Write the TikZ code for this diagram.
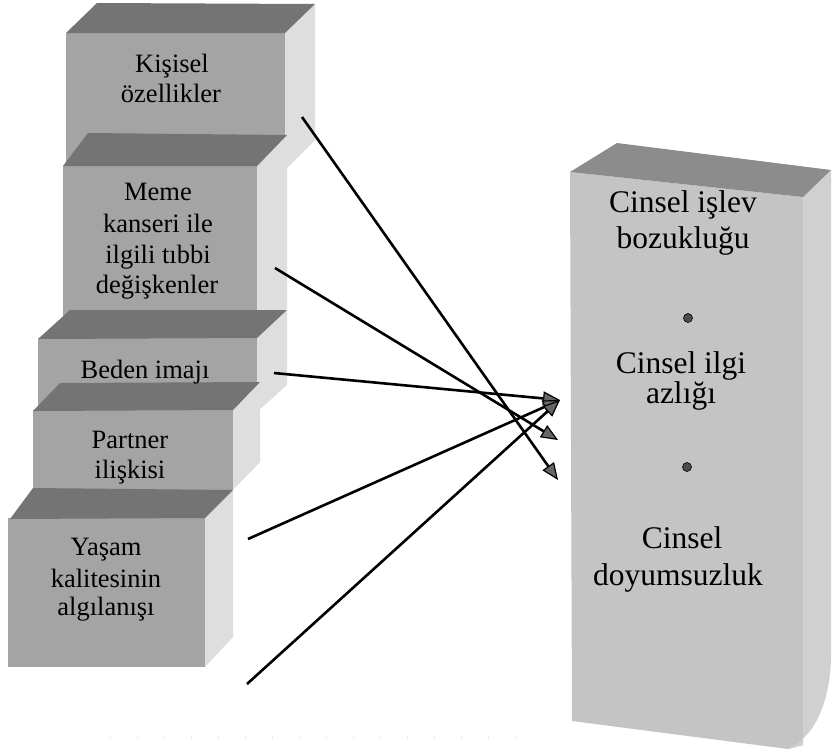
\documentclass[tikz,border=0pt]{standalone}
\usepackage{fontspec}
\setmainfont{Liberation Serif}
\usetikzlibrary{arrows.meta}

\definecolor{frontgray}{HTML}{A4A4A4}
\definecolor{topgray}{HTML}{747474}
\definecolor{sidegray}{HTML}{DEDEDE}
\definecolor{bigfront}{HTML}{C4C4C4}
\definecolor{bigtop}{HTML}{8C8C8C}
\definecolor{bigside}{HTML}{D0D0D0}

\begin{document}
\begin{tikzpicture}[x=1pt,y=-1pt,
  front/.style={fill=frontgray},
  topface/.style={fill=topgray},
  sideface/.style={fill=sidegray},
  lbl/.style={font=\fontsize{26.5}{30}\selectfont, inner sep=0pt, anchor=base},
  rlbl/.style={font=\fontsize{31.5}{36}\selectfont, inner sep=0pt, anchor=base},
  dotmark/.style={circle, fill=black!70, draw=black, line width=0.6pt, minimum size=9pt, inner sep=0pt},
  link/.style={line width=2.6pt, -{Triangle[length=17pt,width=14pt,fill=black!60,line width=1.2pt]}}
]
\useasboundingbox (0,0) rectangle (834,753);

% ---- stacked blocks on the left (drawn top to bottom so each overlaps the one above)
% block 1
\fill[front]    (66,33) rectangle (285,170);
\fill[sideface] (285,33) -- (315,4) -- (315,140) -- (285,170) -- cycle;
\fill[topface]  (66,33) -- (97,3) -- (315,4) -- (285,33) -- cycle;
% block 2
\fill[front]    (63,166) rectangle (257,340);
\fill[sideface] (257,166) -- (287,135) -- (287,308) -- (257,338) -- cycle;
\fill[topface]  (63,166) -- (88,133) -- (287,135) -- (257,166) -- cycle;
% block 3
\fill[front]    (38,338) rectangle (257,412);
\fill[sideface] (257,338) -- (287,310) -- (287,385) -- (257,412) -- cycle;
\fill[topface]  (38,339) -- (70,310) -- (287,310) -- (257,338) -- cycle;
% block 4
\fill[front]    (33,410) rectangle (233,490);
\fill[sideface] (233,410) -- (260,382) -- (260,462) -- (233,490) -- cycle;
\fill[topface]  (33,411) -- (60,383) -- (260,382) -- (233,410) -- cycle;
% block 5
\fill[front]    (8,518) rectangle (205,667);
\fill[sideface] (205,518) -- (233,490) -- (233,637) -- (205,667) -- cycle;
\fill[topface]  (10,519) -- (33,488) -- (233,490) -- (205,518) -- cycle;

% ---- tall block on the right
\fill[bigfront] (570,172) -- (803,197) -- (803,745) -- (788,749) -- (572,721) -- cycle;
\fill[bigside]  (803,197) -- (831,170) -- (831,660)
   .. controls (829,708) and (812,738) .. (788,749) -- (803,745) -- cycle;
\fill[bigtop]   (570,172) -- (617,143) -- (831,170) -- (803,197) -- cycle;

% ---- labels, left
\node[lbl] (k1) at (172,72)  {Kişisel};
\node[lbl] (k2) at (171,102) {özellikler};
\node[lbl] (m1) at (158,200) {Meme};
\node[lbl] (m2) at (158,232) {kanseri ile};
\node[lbl] (m3) at (158,263) {ilgili tıbbi};
\node[lbl] (m4) at (157,293) {değişkenler};
\node[lbl] (b1) at (145,378) {Beden imajı};
\node[lbl] (p1) at (130,448) {Partner};
\node[lbl] (p2) at (130,478) {ilişkisi};
\node[lbl] (y1) at (106,555) {Yaşam};
\node[lbl] (y2) at (106,587) {kalitesinin};
\node[lbl] (y3) at (106,615) {algılanışı};

% ---- labels, right
\node[rlbl] (c1) at (683,212) {Cinsel işlev};
\node[rlbl] (c2) at (683,248) {bozukluğu};
\node[dotmark] (d1) at (688,318) {};
\node[rlbl] (c3) at (681,373) {Cinsel ilgi};
\node[rlbl] (c4) at (681,403) {azlığı};
\node[dotmark] (d2) at (687,467) {};
\node[rlbl] (c5) at (682,548) {Cinsel};
\node[rlbl] (c6) at (678,585) {doyumsuzluk};

% ---- connectors
\coordinate (k-out) at (302,117);
\coordinate (m-out) at (275,268);
\coordinate (b-out) at (274,373);
\coordinate (p-out) at (248,539);
\coordinate (y-out) at (247,684);
\coordinate (t-up)  at (560,400);
\coordinate (t-mid) at (558,440);
\coordinate (t-low) at (558,480);

\draw[link] (k-out) -- (t-low);
\draw[link] (m-out) -- (t-mid);
\draw[link] (b-out) -- (t-up);
\draw[link] (p-out) -- (t-up);
\draw[link] (y-out) -- (t-up);

% faint dotted rule along the bottom
\coordinate (rule-a) at (110,737);
\coordinate (rule-b) at (532,737);
\draw[gray!45, line width=0.8pt, dash pattern=on 1pt off 26pt] (rule-a) -- (rule-b);
\end{tikzpicture}
\end{document}
